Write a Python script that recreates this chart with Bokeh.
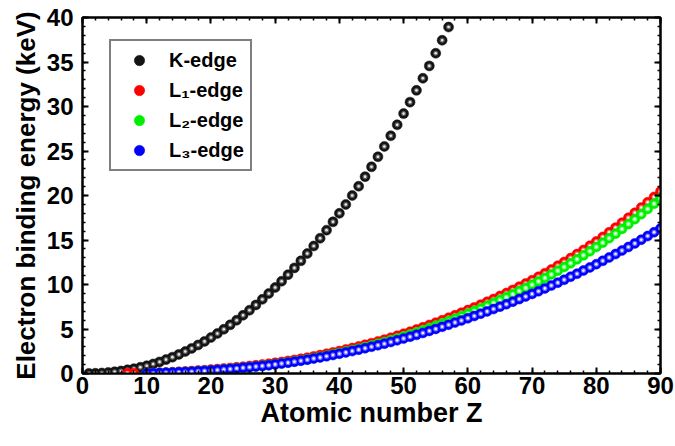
from bokeh.plotting import figure
from bokeh.models import (Range1d, SingleIntervalTicker, LinearAxis, Legend,
                          LegendItem, ColumnDataSource, CustomLabelingPolicy)
from bokeh.embed import file_html
from bokeh.resources import INLINE

# ---------------- data (electron binding energies, eV) ----------------
K_Z = list(range(1, 58))
K_eV = [13.6, 24.6, 54.7, 111.5, 188, 284.2, 409.9, 543.1, 696.7, 870.2,
        1070.8, 1303.0, 1559.6, 1838.9, 2145.5, 2472, 2822.4, 3205.9, 3608.4, 4038.5,
        4492.8, 4966.4, 5465.1, 5989.2, 6539.0, 7112.0, 7708.9, 8332.8, 8978.9, 9658.6,
        10367.1, 11103.1, 11866.7, 12657.8, 13473.7, 14325.6, 15199.7, 16104.6, 17038.4, 17997.6,
        18985.6, 19999.5, 21044.0, 22117.2, 23219.9, 24350.3, 25514.0, 26711.2, 27939.9, 29200.1,
        30491.2, 31813.8, 33169.4, 34561.4, 35984.6, 37440.6, 38924.6]

L1_Z = [7, 8] + list(range(10, 91))
L1_eV = [37.3, 41.6,
         48.5, 63.5, 88.7, 117.8, 149.7, 189, 230.9, 270, 326.3, 378.6, 438.4,
         498.0, 560.9, 626.7, 696.0, 769.1, 844.6, 925.1, 1008.6, 1096.7, 1196.2,
         1299.0, 1414.6, 1527.0, 1652.0, 1782, 1921, 2065, 2216, 2373, 2532,
         2698, 2866, 3043, 3224, 3412, 3604, 3806, 4018, 4238, 4465,
         4698, 4939, 5188, 5453, 5714, 5989, 6266, 6549, 6835, 7126,
         7428, 7737, 8052, 8376, 8708, 9046, 9394, 9751, 10116, 10486,
         10870, 11271, 11682, 12100, 12527, 12968, 13419, 13880, 14353, 14839,
         15347, 15861, 16388, 16939, 17493, 18049, 18639, 19237, 19840, 20472]

L2_Z = list(range(10, 91))
L2_eV = [21.7, 30.65, 49.78, 72.95, 99.82, 136, 163.6, 202, 250.6, 297.3, 349.7,
         403.6, 460.2, 519.8, 583.8, 649.9, 719.9, 793.2, 870.0, 952.3, 1044.9,
         1143.2, 1248.1, 1359.1, 1474.3, 1596, 1730.9, 1864, 2007, 2156, 2307,
         2465, 2625, 2793, 2967, 3146, 3330, 3524, 3727, 3938, 4156,
         4380, 4612, 4852, 5107, 5359, 5624, 5891, 6164, 6440, 6722,
         7013, 7312, 7617, 7930, 8252, 8581, 8918, 9264, 9617, 9978,
         10349, 10739, 11136, 11544, 11959, 12385, 12824, 13273, 13734, 14209,
         14698, 15200, 15711, 16244, 16785, 17337, 17907, 18484, 19083, 19693]

L3_Z = list(range(10, 91))
L3_eV = [21.6, 30.81, 49.50, 72.55, 99.42, 135, 162.5, 200, 248.4, 294.6, 346.2,
         398.7, 453.8, 512.1, 574.1, 638.7, 706.8, 778.1, 852.7, 932.7, 1021.8,
         1116.4, 1217.0, 1323.6, 1433.9, 1550, 1678.4, 1804, 1940, 2080, 2223,
         2371, 2520, 2677, 2838, 3004, 3173, 3351, 3538, 3730, 3929,
         4132, 4341, 4557, 4786, 5012, 5247, 5483, 5723, 5964, 6208,
         6459, 6716, 6977, 7243, 7514, 7790, 8071, 8358, 8648, 8944,
         9244, 9561, 9881, 10207, 10535, 10871, 11215, 11564, 11919, 12284,
         12658, 13035, 13419, 13814, 14214, 14619, 15031, 15444, 15871, 16300]

labels = ["K-edge", "L\u2081-edge", "L\u2082-edge", "L\u2083-edge"]
x_tick_interval = 10
y_tick_interval = 5

# ---------------- figure ----------------
FONT = "Liberation Sans"
p = figure(width=675, height=446, x_range=Range1d(0, 90), y_range=Range1d(0, 40),
           output_backend="svg", toolbar_location=None,
           x_axis_location=None, y_axis_location=None,
           min_border_left=82, min_border_right=15, min_border_top=17, min_border_bottom=73)
p.grid.visible = False
p.outline_line_color = "black"
p.outline_line_width = 2
p.background_fill_color = "white"
p.border_fill_color = "white"

xt = SingleIntervalTicker(interval=x_tick_interval, num_minor_ticks=5)
yt = SingleIntervalTicker(interval=y_tick_interval, num_minor_ticks=5)

hide_all = CustomLabelingPolicy(code="""
    for (const i of Array.from(indices)) { indices.unset(i) }
    return indices
""")

bottom = LinearAxis(ticker=xt, axis_label="Atomic number Z")
left = LinearAxis(ticker=yt, axis_label="Electron binding energy (keV)")
top = LinearAxis(ticker=xt, major_label_policy=hide_all, major_label_standoff=0)
right = LinearAxis(ticker=yt, major_label_policy=hide_all, major_label_standoff=0)
p.add_layout(bottom, "below")
p.add_layout(left, "left")
p.add_layout(top, "above")
p.add_layout(right, "right")

for ax in (bottom, left, top, right):
    ax.axis_line_width = 2
    ax.axis_line_color = "black"
    ax.major_tick_line_width = 2
    ax.minor_tick_line_width = 1.5
    ax.major_tick_in = 6
    ax.major_tick_out = 0
    ax.minor_tick_in = 3
    ax.minor_tick_out = 0
    ax.major_label_text_font = FONT
    ax.major_label_text_font_style = "bold"
    ax.major_label_text_color = "black"
    ax.axis_label_text_font = FONT
    ax.axis_label_text_font_style = "bold"
    ax.axis_label_text_color = "black"

for ax in (bottom, left):
    ax.major_label_text_font_size = "24px"
for ax in (top, right):
    ax.major_label_text_font_size = "1px"

bottom.axis_label_text_font_size = "27px"
left.axis_label_text_font_size = "26px"
bottom.major_label_standoff = 3
bottom.axis_label_standoff = 1
left.major_label_standoff = 9
left.axis_label_standoff = 3

series = [
    (K_Z, K_eV, "#141414", "#606060", "#e8e8e8"),
    (L1_Z, L1_eV, "#ff0000", "#ff7070", "#ffeeee"),
    (L2_Z, L2_eV, "#00ee00", "#70ff70", "#eeffee"),
    (L3_Z, L3_eV, "#0000ff", "#7070ff", "#eeeeff"),
]

items = []
for (zs, evs, base, mid, hl), lab in zip(series, labels):
    src = ColumnDataSource(dict(z=zs, e=[v / 1000.0 for v in evs]))
    r0 = p.scatter("z", "e", source=src, marker="circle", size=10,
                   fill_color=base, line_color=base, line_width=0.5)
    p.scatter("z", "e", source=src, marker="circle", size=5,
              fill_color=mid, line_color=None)
    p.scatter("z", "e", source=src, marker="circle", size=2.6,
              fill_color=hl, line_color=None)
    items.append(LegendItem(label=lab, renderers=[r0]))

legend = Legend(items=items, location=(27, 202))
legend.border_line_color = "black"
legend.border_line_width = 2
legend.padding = 6
legend.spacing = 4
legend.margin = 0
legend.glyph_width = 44
legend.glyph_height = 26
legend.label_height = 26
legend.label_standoff = 8
legend.label_text_font = FONT
legend.label_text_font_style = "bold"
legend.label_text_font_size = "20px"
legend.label_text_color = "black"
legend.background_fill_color = "white"
legend.background_fill_alpha = 1
p.add_layout(legend, "center")

open("out.html", "w").write(file_html(p, INLINE))
